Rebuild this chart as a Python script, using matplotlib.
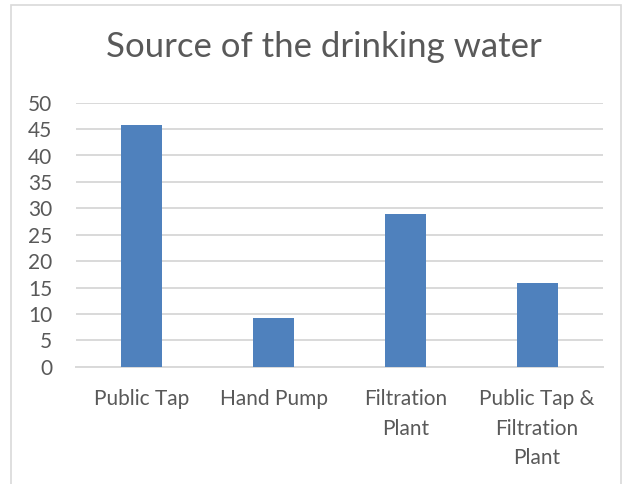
import matplotlib
matplotlib.use("Agg")
import matplotlib.pyplot as plt
from matplotlib.patches import Rectangle

# water source survey counts
sources = ["Public Tap", "Hand Pump", "Filtration\nPlant", "Public Tap &\nFiltration\nPlant"]
counts = [45.8, 9.2, 28.9, 15.9]
y_ticks = [0, 5, 10, 15, 20, 25, 30, 35, 40, 45, 50]

text_grey = "#595959"
grid_grey = "#d9d9d9"
bar_blue = "#4f81bd"

plt.rcParams["font.family"] = ["Lato", "DejaVu Sans"]

fig = plt.figure(figsize=(6.33, 4.84), dpi=100)
ax = fig.add_axes([76 / 633, 1 - 366.7 / 484, (603 - 76) / 633, (366.7 - 102.7) / 484])

# chart frame
fig.patches.append(Rectangle((11 / 633, -0.05), 610 / 633, 1 - 5 / 484 + 0.05,
                             transform=fig.transFigure, fill=False,
                             edgecolor=grid_grey, linewidth=1.2))

x = range(len(sources))
ax.bar(x, counts, width=0.31, color=bar_blue, zorder=3)

ax.set_xlim(-0.5, len(sources) - 0.5)
ax.set_ylim(0, 50)
ax.set_yticks(y_ticks)
ax.set_xticks(list(x))
ax.set_xticklabels(sources, linespacing=1.6)
ax.yaxis.grid(True, color=grid_grey, linewidth=1.4, zorder=0)

for side in ["top", "right", "left"]:
    ax.spines[side].set_visible(False)
ax.spines["bottom"].set_color(grid_grey)
ax.spines["bottom"].set_linewidth(1.4)

ax.tick_params(axis="both", length=0, labelsize=15, colors=text_grey)
ax.tick_params(axis="y", pad=17)
ax.tick_params(axis="x", pad=16)

fig.text(324 / 633, 1 - 47 / 484, "Source of the drinking water",
         ha="center", va="center", fontsize=25, color=text_grey)

fig.savefig("out.png", dpi=100)
